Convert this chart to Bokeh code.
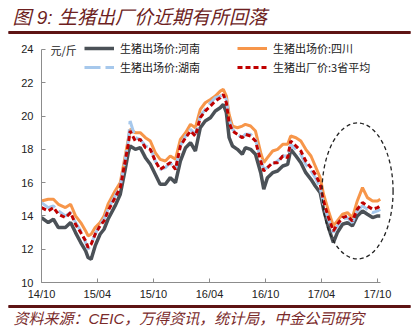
import pandas as pd
from bokeh.plotting import figure
from bokeh.models import (Range1d, FixedTicker, DatetimeTickFormatter, Legend, LegendItem,
                          Label)
from bokeh.embed import file_html
from bokeh.resources import INLINE

# ---------------- data ----------------
dates = ["2014-10-01", "2014-10-23", "2014-11-09", "2014-11-25", "2014-12-18", "2015-01-04",
         "2015-01-20", "2015-02-06", "2015-02-22", "2015-03-02", "2015-03-12", "2015-03-25",
         "2015-04-10", "2015-04-23", "2015-05-06", "2015-05-29", "2015-06-15", "2015-07-01",
         "2015-07-11", "2015-07-17", "2015-08-03", "2015-08-19", "2015-09-05", "2015-09-21",
         "2015-10-07", "2015-10-23", "2015-11-09", "2015-11-25", "2015-12-12", "2015-12-28",
         "2016-01-14", "2016-01-30", "2016-02-15", "2016-03-02", "2016-03-18", "2016-04-04",
         "2016-04-20", "2016-05-06", "2016-05-16", "2016-05-26", "2016-06-04", "2016-06-15",
         "2016-07-01", "2016-07-17", "2016-07-27", "2016-08-13", "2016-08-29", "2016-09-15",
         "2016-09-25", "2016-10-07", "2016-10-24", "2016-11-09", "2016-11-26", "2016-12-12",
         "2016-12-22", "2017-01-08", "2017-01-24", "2017-02-09", "2017-02-26", "2017-03-12",
         "2017-03-28", "2017-04-08", "2017-04-24", "2017-05-10", "2017-05-23", "2017-06-09",
         "2017-06-25", "2017-07-11", "2017-07-27", "2017-08-13", "2017-08-29", "2017-09-15",
         "2017-10-01", "2017-10-10"]

henan = [13.9, 13.6, 13.8, 13.3, 13.3, 13.6, 13.0, 12.4, 11.9, 11.5, 11.4, 12.2,
         12.9, 13.2, 13.8, 14.6, 15.3, 16.8, 17.8, 18.2, 18.0, 18.1, 17.5, 17.1,
         16.5, 15.9, 15.9, 16.3, 16.0, 17.3, 18.1, 18.4, 17.9, 19.3, 19.7, 19.9,
         20.3, 20.5, 20.7, 20.2, 18.7, 18.2, 18.0, 17.7, 18.1, 18.0, 17.7, 16.6,
         15.6, 16.3, 16.6, 16.7, 17.0, 17.1, 18.0, 17.6, 17.2, 16.6, 16.2, 15.8,
         15.4, 14.4, 13.3, 12.4, 13.0, 13.5, 13.6, 13.4, 14.0, 14.3, 14.1, 13.9,
         14.0, 14.0]

sichuan = [14.9, 15.0, 15.0, 14.7, 14.5, 14.7, 14.0, 13.6, 13.1, 12.8, 12.9, 13.3,
           13.6, 14.0, 14.7, 15.5, 16.0, 17.6, 18.6, 19.2, 19.0, 19.0, 18.7, 18.5,
           17.8, 17.4, 17.3, 17.6, 17.4, 18.6, 19.0, 19.5, 19.3, 20.4, 20.8, 21.0,
           21.2, 21.5, 21.6, 21.2, 20.1, 19.4, 19.3, 19.4, 19.5, 19.4, 19.1, 17.8,
           17.2, 17.5, 17.9, 18.0, 18.3, 18.3, 18.8, 18.7, 18.5, 18.0, 17.6, 17.0,
           16.3, 15.3, 14.3, 13.4, 13.7, 14.1, 14.2, 13.9, 14.9, 15.7, 15.1, 14.9,
           14.9, 15.0]

hunan = [14.8, 14.5, 14.6, 14.3, 14.0, 14.2, 13.6, 13.1, 12.4, 12.0, 12.3, 12.9,
         13.5, 13.8, 14.4, 15.2, 15.8, 17.4, 18.5, 19.7, 18.7, 18.6, 18.2, 18.1,
         17.3, 16.8, 16.9, 17.2, 16.8, 18.2, 18.8, 19.2, 18.9, 20.0, 20.4, 20.8,
         21.1, 21.2, 21.3, 21.0, 19.8, 19.2, 18.9, 18.7, 18.9, 18.9, 18.6, 17.4,
         16.8, 16.9, 17.1, 17.3, 17.6, 17.6, 18.3, 18.0, 17.7, 17.1, 16.7, 16.3,
         15.7, 14.7, 13.8, 13.0, 13.4, 13.8, 13.9, 13.6, 14.3, 14.6, 14.4, 14.2,
         14.3, 14.4]

avg3 = [14.5, 14.3, 14.5, 14.1, 13.9, 14.2, 13.5, 13.0, 12.5, 12.1, 12.3, 12.9,
        13.4, 13.7, 14.3, 15.1, 15.7, 17.3, 18.3, 19.1, 18.5, 18.6, 18.1, 18.0,
        17.3, 16.8, 17.0, 17.2, 16.8, 18.2, 18.7, 19.1, 18.8, 19.9, 20.3, 20.6,
        20.9, 21.1, 21.3, 20.8, 19.6, 19.1, 18.9, 18.7, 18.9, 18.8, 18.5, 17.3,
        16.7, 16.9, 17.2, 17.2, 17.6, 17.5, 18.5, 18.2, 17.9, 17.3, 16.9, 16.5,
        15.9, 14.9, 13.9, 13.1, 13.5, 13.9, 14.0, 13.7, 14.4, 14.8, 14.6, 14.4,
        14.5, 14.6]

series_names = ["生猪出场价:河南", "生猪出场价:四川", "生猪出场价:湖南", "生猪出厂价:3省平均"]

tick_dates = ["2014-10-01", "2015-04-01", "2015-10-01", "2016-04-01", "2016-10-01",
              "2017-04-01", "2017-10-01"]
tick_labels = ["14/10", "15/04", "15/10", "16/04", "16/10", "17/04", "17/10"]
y_ticks = [10, 12, 14, 16, 18, 20, 22, 24]

title_text = "图 9:  生猪出厂价近期有所回落"
source_text = "资料来源：CEIC，万得资讯，统计局，中金公司研究"
unit_text = "元/斤"

# highlighted region (dashed ellipse)
ell_center_date = "2017-07-28"
ell_center_val = 15.5

W = 420
HEAD_H, MAIN_H, FOOT_H = 38, 264, 34
LEFT, RIGHT, BOTTOM = 41, 20, 20
maroon_rule = "#5e1414"
lab_font = "Liberation Sans, Noto Sans CJK SC"
cjk_font = "Noto Sans CJK SC"


def blank_fig(h):
    # page-pixel coordinates: x to the right, y downward
    f = figure(width=W, height=h, output_backend="svg", toolbar_location=None,
               min_border=0, x_axis_location=None, y_axis_location=None,
               x_range=Range1d(0, W), y_range=Range1d(h, 0))
    f.grid.visible = False
    f.outline_line_color = None
    f.background_fill_color = "white"
    f.border_fill_color = "white"
    return f


def add_rule(f, yc):
    # thin filled bar (background of a blank label) plus a glyph segment
    f.add_layout(Label(x=8, y=yc, text="\u3000" * 201, text_font=cjk_font,
                       text_font_size="2px", text_baseline="middle",
                       background_fill_color=maroon_rule, background_fill_alpha=1))
    f.segment(x0=[8], y0=[yc], x1=[410], y1=[yc], line_color=maroon_rule, line_width=2)


# ---------------- header ----------------
head = blank_fig(HEAD_H)
head.add_layout(Label(x=12, y=17, text=title_text, text_font=lab_font,
                      text_font_size="19px", text_font_style="italic",
                      text_color="#6e1f1f", text_baseline="middle"))
add_rule(head, 32)

# ---------------- main chart ----------------
x = pd.to_datetime(dates)
frame_h = MAIN_H - BOTTOM

p = figure(width=W, height=MAIN_H, x_axis_type="datetime", output_backend="svg",
           toolbar_location=None, min_border_left=LEFT, min_border_right=RIGHT,
           min_border_top=0, min_border_bottom=BOTTOM,
           x_range=Range1d(pd.Timestamp("2014-10-01"), pd.Timestamp("2017-12-15")),
           y_range=Range1d(10, 24.66))
p.background_fill_color = "white"
p.border_fill_color = "white"
p.outline_line_color = None
p.xgrid.visible = False
p.ygrid.visible = False

axis_color = "#8c8c8c"
tick_ms = [int(pd.Timestamp(d).value // 10**6) for d in tick_dates]
xa = p.xaxis[0]
xa.ticker = FixedTicker(ticks=tick_ms)
xa.formatter = DatetimeTickFormatter(months="%y/%m", days="%y/%m", years="%y/%m")
xa.major_label_overrides = {t: l for t, l in zip(tick_ms, tick_labels)}
xa.bounds = (tick_ms[0], int(pd.Timestamp("2017-10-10").value // 10**6))
ya = p.yaxis[0]
ya.ticker = FixedTicker(ticks=y_ticks)
ya.bounds = (10, 24)
for ax in (xa, ya):
    ax.axis_line_color = axis_color
    ax.major_tick_line_color = axis_color
    ax.major_tick_in = 4
    ax.major_tick_out = 0
    ax.minor_tick_line_color = None
    ax.major_label_text_font = lab_font
    ax.major_label_text_font_size = "11px"
    ax.major_label_text_color = "#222222"
xa.major_label_standoff = 5
ya.major_label_standoff = 8

r_henan = p.line(x, henan, line_color="#4b5157", line_width=3.5)
r_sichuan = p.line(x, sichuan, line_color="#f7964a", line_width=3)
r_hunan = p.line(x, hunan, line_color="#a6c8ec", line_width=3, line_dash="16 5")
r_avg = p.line(x, avg3, line_color="#c00000", line_width=3, line_dash="5 3")

p.ellipse(x=[pd.Timestamp(ell_center_date)], y=[ell_center_val], width=71, height=136,
          width_units="screen", height_units="screen", fill_color=None,
          line_color="#222222", line_width=1.3, line_dash="4 3")


def make_legend(items, xoff):
    return Legend(items=items, location=(xoff, frame_h - 37), orientation="vertical",
                  padding=0, margin=0, spacing=3, glyph_width=30, glyph_height=16,
                  label_height=16, label_standoff=6, border_line_color=None,
                  background_fill_alpha=0, label_text_font=cjk_font,
                  label_text_font_size="11px", label_text_color="#222222")


leg1 = make_legend([LegendItem(label=series_names[0], renderers=[r_henan]),
                    LegendItem(label=series_names[2], renderers=[r_hunan])], 43)
leg2 = make_legend([LegendItem(label=series_names[1], renderers=[r_sichuan]),
                    LegendItem(label=series_names[3], renderers=[r_avg])], 196)
p.add_layout(leg1, "center")
p.add_layout(leg2, "center")

p.add_layout(Label(x=50 - LEFT, y=frame_h - 11, x_units="screen", y_units="screen",
                   text=unit_text, text_font=cjk_font, text_font_size="11px",
                   text_color="#222222", text_baseline="middle"))

# ---------------- footer ----------------
foot = blank_fig(FOOT_H)
add_rule(foot, 4)
foot.add_layout(Label(x=13, y=16, text=source_text, text_font=lab_font,
                      text_font_size="15px", text_font_style="italic",
                      text_color="#7a2a2a", text_baseline="middle"))

# three independent roots stacked on the page (no frame alignment between them)
open("out.html", "w").write(file_html([head, p, foot], INLINE))
